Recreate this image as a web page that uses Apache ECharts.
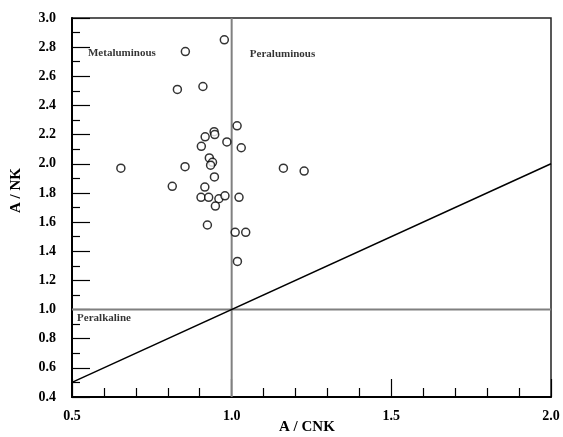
<!DOCTYPE html>
<html>
<head>
<meta charset="utf-8">
<script src="https://cdn.jsdelivr.net/npm/echarts@6/dist/echarts.min.js"></script>
<style>
  html, body { margin: 0; padding: 0; background: #fff; }
  #chart { width: 563px; height: 437px; }
</style>
</head>
<body>
<div id="chart"></div>
<script>
// Sample compositions: A/CNK (molar Al2O3/(CaO+Na2O+K2O)) and A/NK (molar Al2O3/(Na2O+K2O))
const acnk = [0.977, 0.855, 0.91, 0.83, 1.017, 0.945, 0.947, 0.917, 0.985, 0.905, 1.03,
              0.93, 0.94, 0.934, 0.854, 0.653, 1.162, 1.227, 0.946, 0.814, 0.916,
              0.904, 0.928, 0.96, 0.979, 1.023, 0.949, 0.924, 1.011, 1.044, 1.018];
const ank  = [2.85, 2.77, 2.53, 2.51, 2.26, 2.22, 2.20, 2.185, 2.15, 2.12, 2.11,
              2.04, 2.01, 1.99, 1.98, 1.97, 1.97, 1.95, 1.91, 1.845, 1.84,
              1.77, 1.77, 1.76, 1.78, 1.77, 1.71, 1.58, 1.53, 1.53, 1.33];

// Field boundaries
const acnkBoundary = 1.0;
const ankBoundary = 1.0;
const equalityLine = [[0.5, 0.5], [2.0, 2.0]];

// Axis ranges
const xRange = [0.5, 2.0];
const yRange = [0.4, 3.0];

// Field names and their anchor points (A/CNK, A/NK)
const fieldNames = ['Metaluminous', 'Peraluminous', 'Peralkaline'];
const fieldAnchors = [[0.55, 2.757], [1.057, 2.75], [0.516, 0.94]];

const serif = 'Liberation Serif';
const chart = echarts.init(document.getElementById('chart'), null, { renderer: 'canvas' });

chart.setOption({
  animation: false,
  backgroundColor: '#fff',
  grid: {
    left: 72, right: 12, top: 18, bottom: 40,
    containLabel: false, outerBoundsMode: 'none',
    show: true, borderColor: '#222', borderWidth: 1.5, backgroundColor: 'transparent'
  },
  // x-axis title under the middle of the plot area
  graphic: [{
    type: 'text', left: 279, top: 420,
    style: { text: 'A / CNK', fontFamily: serif, fontWeight: 'bold', fontSize: 15, fill: '#000' }
  }],
  xAxis: {
    type: 'value', min: xRange[0], max: xRange[1], interval: 0.5,
    axisLine: { show: true, onZero: false, lineStyle: { color: '#000', width: 2 } },
    axisTick: { show: true, inside: true, length: 18, lineStyle: { color: '#000', width: 1.2 } },
    minorTick: { show: true, splitNumber: 5, length: 9, lineStyle: { color: '#000', width: 1.2 } },
    splitLine: { show: false },
    axisLabel: {
      margin: 12, fontFamily: serif, fontWeight: 'bold', fontSize: 14, color: '#000',
      formatter: v => v.toFixed(1)
    }
  },
  yAxis: {
    type: 'value', min: yRange[0], max: yRange[1], interval: 0.2,
    name: 'A / NK', nameLocation: 'middle', nameGap: 48, nameRotate: 90,
    nameTextStyle: { fontFamily: serif, fontWeight: 'bold', fontSize: 15, color: '#000', padding: [0, 0, 0, 34] },
    axisLine: { show: true, onZero: false, lineStyle: { color: '#000', width: 2 } },
    axisTick: { show: true, inside: true, length: 18, lineStyle: { color: '#000', width: 1.2 } },
    minorTick: { show: true, splitNumber: 2, length: 8, lineStyle: { color: '#000', width: 1.2 } },
    splitLine: { show: false },
    axisLabel: {
      margin: 16, fontFamily: serif, fontWeight: 'bold', fontSize: 14, color: '#000',
      formatter: v => v.toFixed(1)
    }
  },
  series: [
    {
      type: 'line', name: 'A/CNK = 1', silent: true, symbol: 'none',
      data: [[acnkBoundary, yRange[0]], [acnkBoundary, yRange[1]]],
      lineStyle: { color: '#808080', width: 2 }, z: 1
    },
    {
      type: 'line', name: 'A/NK = 1', silent: true, symbol: 'none',
      data: [[xRange[0], ankBoundary], [xRange[1], ankBoundary]],
      lineStyle: { color: '#808080', width: 2 }, z: 1
    },
    {
      type: 'line', name: 'A/NK = A/CNK', silent: true, symbol: 'none',
      data: equalityLine,
      lineStyle: { color: '#000', width: 1.5 }, z: 2
    },
    {
      type: 'scatter', name: 'samples',
      data: acnk.map((x, i) => [x, ank[i]]),
      symbol: 'circle', symbolSize: 8,
      itemStyle: { color: '#fff', borderColor: '#000', borderWidth: 1.5 }, z: 5
    },
    {
      type: 'scatter', name: 'fields', silent: true,
      data: fieldAnchors.map((p, i) => ({ value: p, name: fieldNames[i] })),
      symbolSize: 0,
      label: {
        show: true, position: [0, 0], align: 'left', verticalAlign: 'middle',
        formatter: p => p.name,
        fontFamily: serif, fontWeight: 'bold', fontSize: 11, color: '#000'
      }, z: 6
    }
  ]
});
</script>
</body>
</html>
